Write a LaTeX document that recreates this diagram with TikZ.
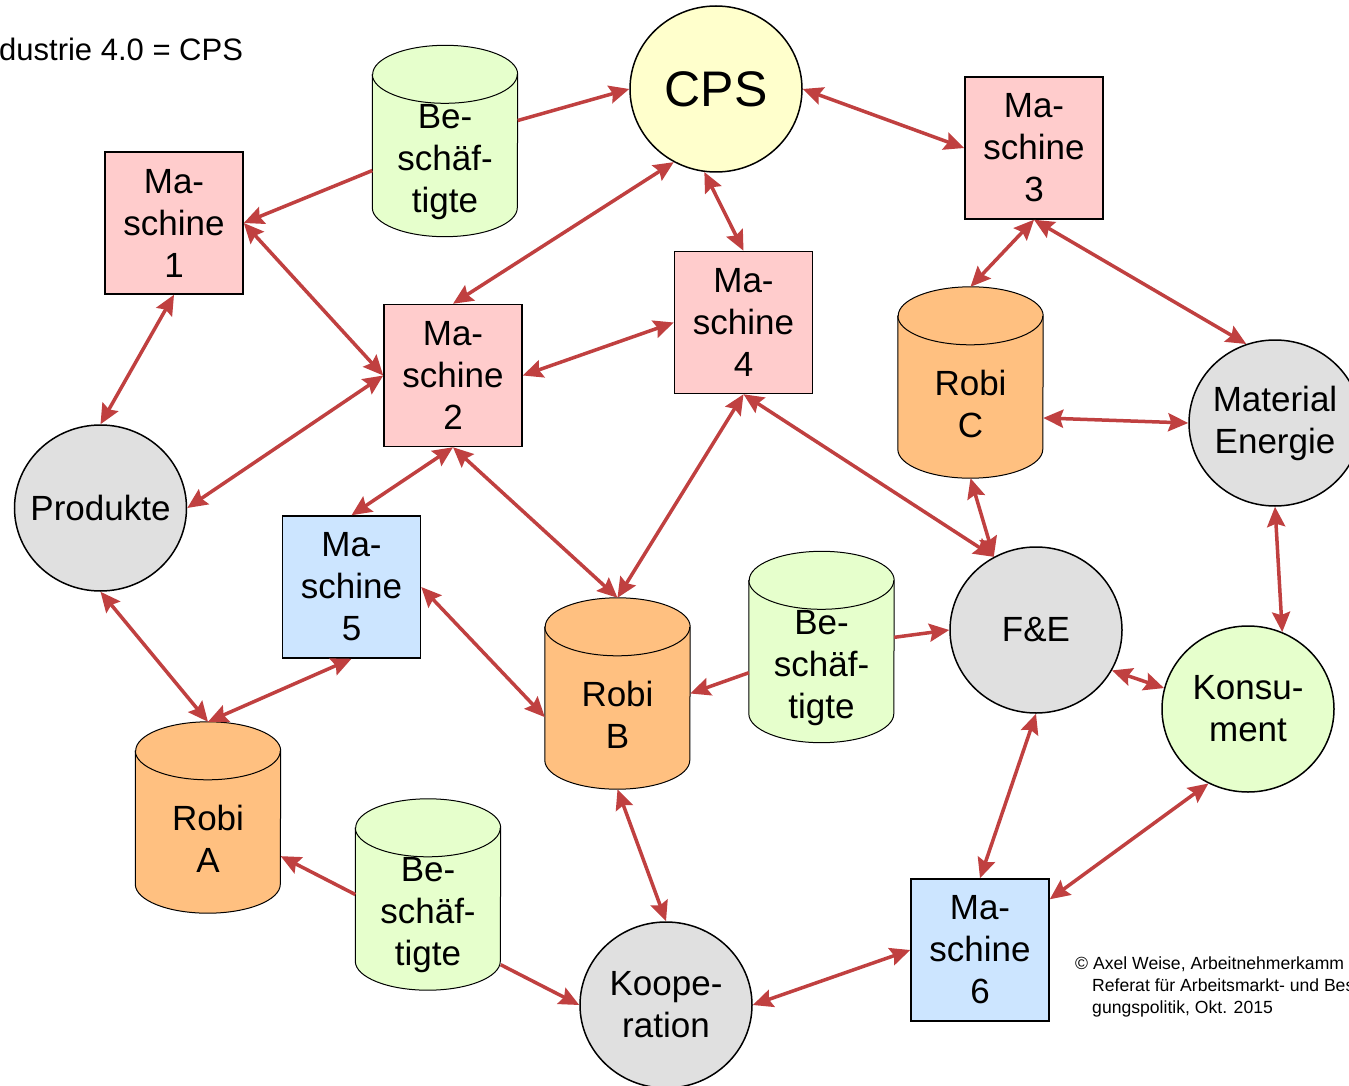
\documentclass[tikz,border=0pt]{standalone}
\usepackage{fontspec}
\setmainfont{Liberation Sans}
\usetikzlibrary{arrows.meta,shapes.geometric}
\definecolor{arr}{HTML}{C04040}
\definecolor{pinkc}{HTML}{FFCCCC}
\definecolor{bluec}{HTML}{CCE5FF}
\definecolor{greenc}{HTML}{E6FFCC}
\definecolor{orangec}{HTML}{FFC080}
\definecolor{greyc}{HTML}{E0E0E0}
\definecolor{yellowc}{HTML}{FFFFCC}
\newcommand\mkcyl[5]{%
  \node[cylbox] (#1) at (#2,#3) {};
  \filldraw[fill=#4, draw=black, line width=1pt] ([yshift=-29pt]#1.north west) -- ([yshift=29pt]#1.south west) arc[start angle=180, end angle=360, x radius=72.5pt, y radius=29pt] -- ([yshift=-29pt]#1.north east) arc[start angle=0, end angle=180, x radius=72.5pt, y radius=29pt] -- cycle;
  \draw[line width=1pt] ([yshift=-29pt]#1.north west) arc[start angle=180, end angle=360, x radius=72.5pt, y radius=29pt];
  \node[basetxt] (#1-t) at ([yshift=-21pt]#1.center) {#5};
}
\begin{document}
\begin{tikzpicture}[x=1pt,y=-1pt,
  basetxt/.style={font=\fontsize{35}{42}\selectfont, align=center, inner sep=0pt},
  mbox/.style={basetxt, rectangle, draw=black, line width=1.5pt, minimum width=138pt, minimum height=142pt},
  pinkbox/.style={mbox, fill=pinkc},
  bluebox/.style={mbox, fill=bluec},
  disc/.style={basetxt, ellipse, draw=black, line width=1.5pt, inner xsep=-20pt, inner ysep=0pt, minimum width=172pt, minimum height=166pt},
  cylbox/.style={rectangle, minimum width=145pt, minimum height=191pt, inner sep=0pt},
  rtip/.tip={Stealth[length=20pt,width=18pt,inset=3pt]},
  link/.style={draw=arr, line width=3.5pt, rtip-rtip},
  one/.style={draw=arr, line width=3.5pt, -rtip},
  copyt/.style={anchor=base west, inner sep=0pt, font=\fontsize{17.6}{22}\selectfont}
]
\useasboundingbox (0,0) rectangle (1349,1086);
\fill[white] (0,0) rectangle (1349,1086);

\node[anchor=base west, inner sep=0pt, font=\fontsize{31}{37}\selectfont] (title) at (-1,61) {dustrie 4.0 = CPS};

% circles
\node[disc, fill=yellowc, font=\fontsize{50}{60}\selectfont] (cps) at (716,89) {CPS};
\node[disc, fill=greyc] (prod) at (100.5,508) {Produkte};
\node[disc, fill=greyc] (mat) at (1275,423) {Material\\Energie};
\node[disc, fill=greyc] (fe) at (1036,630) {F\&E};
\node[disc, fill=greenc] (kon) at (1248,709) {Konsu-\\ment};
\node[disc, fill=greyc] (koop) at (666,1005) {Koope-\\ration};

% boxes
\node[pinkbox] (m1) at (174,223) {Ma-\\schine\\1};
\node[pinkbox] (m2) at (453,375.5) {Ma-\\schine\\2};
\node[pinkbox] (m3) at (1034,148) {Ma-\\schine\\3};
\node[pinkbox] (m4) at (743.5,322.5) {Ma-\\schine\\4};
\node[bluebox] (m5) at (351.5,587) {Ma-\\schine\\5};
\node[bluebox] (m6) at (980,950) {Ma-\\schine\\6};

% cylinders
\mkcyl{b1}{445}{141}{greenc}{Be-\\schäf-\\tigte}
\mkcyl{rc}{970.5}{382.5}{orangec}{Robi\\C}
\mkcyl{rb}{617.5}{693.5}{orangec}{Robi\\B}
\mkcyl{b2}{821.5}{647}{greenc}{Be-\\schäf-\\tigte}
\mkcyl{ra}{208}{817.5}{orangec}{Robi\\A}
\mkcyl{b3}{428}{894.5}{greenc}{Be-\\schäf-\\tigte}

% connectors
\draw[one] (b1) -- (cps.west);
\draw[one] (b1) -- (m1.east);
\draw[link] (cps.east) -- (m3.west);
\draw[link] (cps.240) -- (m2.north);
\draw[link] (cps.262) -- (m4.north);
\draw[link] (m1.east) -- (m2.west);
\draw[link] (m1.south) -- (prod.north);
\draw[link] (m2.east) -- (m4.west);
\draw[link] (m2.west) -- (prod.east);
\draw[link] (m2.south) -- (m5.north);
\draw[link] (m2.south) -- (rb.north);
\draw[link] (m4.south) -- (rb.north);
\draw[link] (m4.south) -- (fe.120);
\draw[link] (m3.south) -- (rc.north);
\draw[link] (m3.south) -- (mat.110);
\draw[link] (rc.-26) -- (mat.west);
\draw[link] (rc.south) -- (fe.120);
\draw[link] (mat.south) -- (kon.66);
\draw[link] (fe.-28) -- (kon.166);
\draw[one] (b2) -- (fe.west);
\draw[one] (b2) -- (rb.east);
\draw[link] (prod.south) -- (ra.north);
\draw[link] (m5.south) -- (ra.north);
\draw[link] (m5.east) -- (rb.198);
\draw[link] (rb.south) -- (koop.north);
\draw[one] (b3.west) -- (ra.-28);
\draw[one] (b3.-44) -- (koop.west);
\draw[link] (koop.east) -- (m6.west);
\draw[link] (fe.south) -- (m6.north);
\draw[link] (kon.242) -- (m6.36);

% copyright
\node[copyt] (c1) at (1075,969) {© Axel Weise, Arbeitnehmerkamm};
\node[copyt] (c2) at (1092,991) {Referat für Arbeitsmarkt- und Bes};
\node[copyt] (c3) at (1092,1013) {gungspolitik, Okt. 2015};
\end{tikzpicture}
\end{document}
